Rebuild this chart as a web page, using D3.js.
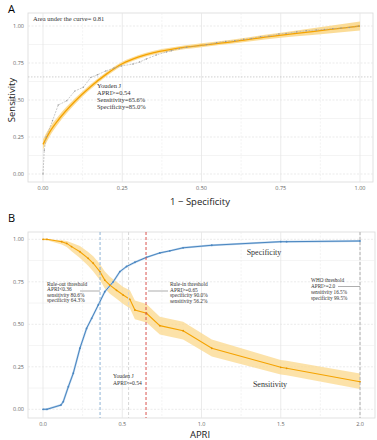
<!DOCTYPE html>
<html>
<head>
<meta charset="utf-8">
<script src="https://cdn.jsdelivr.net/npm/d3@7"></script>
<style>
  body { margin: 0; background: #fff; }
  svg { display: block; }
</style>
</head>
<body>
<svg id="chart" width="377" height="440"></svg>
<script>
// ---- Panel A data: empirical ROC points
var rocFpr  = [0, 0.004, 0.01, 0.03, 0.048, 0.075, 0.10, 0.127, 0.151, 0.172, 0.198, 0.224, 0.247, 0.284, 0.305, 0.326, 0.357, 0.389, 0.405, 0.43,
               0.453, 0.516, 0.547, 0.576, 0.605, 0.633, 0.657, 0.686, 0.713, 0.744, 0.767, 0.80, 0.83, 0.862, 0.888, 0.914, 0.94, 0.966, 0.996];
var rocTpr  = [0, 0.16, 0.25, 0.36, 0.466, 0.495, 0.56, 0.586, 0.653, 0.671, 0.696, 0.716, 0.73, 0.743, 0.757, 0.777, 0.804, 0.824, 0.833, 0.847,
               0.856, 0.874, 0.887, 0.896, 0.90, 0.91, 0.916, 0.928, 0.932, 0.946, 0.95, 0.96, 0.968, 0.973, 0.977, 0.982, 0.986, 0.99, 1.0];
// smoothed ROC with band
var smoothX  = [0, 0.02, 0.05, 0.1, 0.15, 0.2, 0.25, 0.3, 0.35, 0.4, 0.45, 0.5, 0.6, 0.7, 0.8, 0.9, 1.0];
var smoothY  = [0.20, 0.28, 0.37, 0.49, 0.59, 0.675, 0.745, 0.79, 0.82, 0.84, 0.857, 0.87, 0.895, 0.925, 0.95, 0.975, 1.0];
var smoothLo = [0.165, 0.25, 0.345, 0.47, 0.573, 0.66, 0.731, 0.777, 0.807, 0.827, 0.844, 0.857, 0.881, 0.909, 0.93, 0.95, 0.97];
var smoothHi = [0.235, 0.31, 0.395, 0.51, 0.607, 0.69, 0.759, 0.803, 0.833, 0.853, 0.87, 0.883, 0.909, 0.941, 0.97, 1.0, 1.03];
var youdenSens = 0.656;

// ---- Panel B data: sensitivity / specificity vs APRI
var apri      = [0, 0.025, 0.118, 0.15, 0.18, 0.233, 0.285, 0.317, 0.359, 0.39, 0.422, 0.464, 0.506, 0.548, 0.58, 0.653, 0.737, 0.884, 1.065, 1.50, 1.537, 2.0];
var sens      = [1.0, 1.0, 0.986, 0.976, 0.957, 0.927, 0.888, 0.859, 0.81, 0.76, 0.73, 0.70, 0.672, 0.647, 0.584, 0.565, 0.492, 0.462, 0.359, 0.247, 0.241, 0.162];
var sensLo    = [0.995, 0.995, 0.97, 0.955, 0.93, 0.89, 0.845, 0.81, 0.76, 0.71, 0.68, 0.65, 0.62, 0.595, 0.53, 0.51, 0.44, 0.41, 0.31, 0.205, 0.2, 0.12];
var sensHi    = [1.0, 1.0, 0.995, 0.99, 0.98, 0.96, 0.925, 0.9, 0.855, 0.81, 0.78, 0.75, 0.72, 0.7, 0.64, 0.62, 0.545, 0.515, 0.41, 0.29, 0.285, 0.21];
var specApri  = [0, 0.025, 0.113, 0.128, 0.16, 0.191, 0.233, 0.275, 0.307, 0.349, 0.39, 0.443, 0.485, 0.527, 0.58, 0.653, 0.737, 0.80, 0.884, 1.065, 1.50, 1.537, 2.0];
var spec      = [0, 0, 0.025, 0.045, 0.133, 0.212, 0.359, 0.476, 0.535, 0.614, 0.692, 0.75, 0.81, 0.84, 0.865, 0.894, 0.92, 0.932, 0.95, 0.965, 0.986, 0.986, 0.99];
var thresholds = [
  {x: 0.36, color: "#8fb3d6"},
  {x: 0.54, color: "#d6d6d6"},
  {x: 0.65, color: "#d9534f"},
  {x: 2.0,  color: "#b0b0b0"}
];

var svg = d3.select("#chart");
var orange = "#f5a300", band = "#fbd88c", blue = "#4a86c0";

function panel(r, x, y, xt, yt, xfmt) {
  svg.append("rect").attr("x", r.l).attr("y", r.t).attr("width", r.r - r.l).attr("height", r.b - r.t)
    .attr("fill", "#fff").attr("stroke", "#d9d9d9").attr("stroke-width", 0.8);
  var g = svg.append("g");
  // minor grid
  var xm = d3.range(xt.length - 1).map(function(i) { return (xt[i] + xt[i + 1]) / 2; });
  var ym = d3.range(yt.length - 1).map(function(i) { return (yt[i] + yt[i + 1]) / 2; });
  g.selectAll(".mx").data(xm).enter().append("line")
    .attr("x1", x).attr("x2", x).attr("y1", r.t).attr("y2", r.b)
    .attr("stroke", "#ececec").attr("stroke-width", 0.6).attr("stroke-dasharray", "2,1.5");
  g.selectAll(".my").data(ym).enter().append("line")
    .attr("y1", y).attr("y2", y).attr("x1", r.l).attr("x2", r.r)
    .attr("stroke", "#ececec").attr("stroke-width", 0.6);
  g.selectAll(".gx").data(xt).enter().append("line")
    .attr("x1", x).attr("x2", x).attr("y1", r.t).attr("y2", r.b)
    .attr("stroke", "#e6e6e6").attr("stroke-width", 0.8);
  g.selectAll(".gy").data(yt).enter().append("line")
    .attr("y1", y).attr("y2", y).attr("x1", r.l).attr("x2", r.r)
    .attr("stroke", "#e6e6e6").attr("stroke-width", 0.8).attr("stroke-dasharray", "2,1.5");
  // tick labels
  g.selectAll(".tx").data(xt).enter().append("text")
    .attr("x", x).attr("y", r.b + 8).attr("text-anchor", "middle")
    .attr("font-family", "Open Sans").attr("font-size", 5.5).attr("fill", "#666").text(xfmt);
  g.selectAll(".ty").data(yt).enter().append("text")
    .attr("x", r.l - 4).attr("y", function(d) { return y(d) + 2; }).attr("text-anchor", "end")
    .attr("font-family", "Open Sans").attr("font-size", 5.5).attr("fill", "#666").text(d3.format(".2f"));
}

function label(txt, px, py, lines, size, dy) {
  var t = svg.append("text").attr("x", px).attr("y", py)
    .attr("font-family", "Liberation Serif").attr("font-size", size).attr("fill", "#333");
  lines.forEach(function(s, i) {
    t.append("tspan").attr("x", px).attr("dy", i ? dy : 0).text(s);
  });
}

// ================= Panel A =================
var rA = {l: 28, r: 373, t: 13, b: 182};
var xA = d3.scaleLinear().domain([0, 1]).range([43, 360]);
var yA = d3.scaleLinear().domain([0, 1]).range([174, 26]);
panel(rA, xA, yA, [0, 0.25, 0.5, 0.75, 1], [0, 0.25, 0.5, 0.75, 1], d3.format(".2f"));

svg.append("line").attr("x1", rA.l).attr("x2", rA.r).attr("y1", yA(youdenSens)).attr("y2", yA(youdenSens))
  .attr("stroke", "#bbb").attr("stroke-width", 0.7).attr("stroke-dasharray", "1.5,1.5");

var smooth = smoothX.map(function(d, i) { return {x: d, y: smoothY[i], lo: smoothLo[i], hi: smoothHi[i]}; });
svg.append("path").datum(smooth).attr("fill", band).attr("opacity", 0.9)
  .attr("d", d3.area().curve(d3.curveMonotoneX).x(function(d) { return xA(d.x); })
    .y0(function(d) { return yA(d.lo); }).y1(function(d) { return yA(d.hi); }));
svg.append("path").datum(smooth).attr("fill", "none").attr("stroke", orange).attr("stroke-width", 1.3)
  .attr("d", d3.line().curve(d3.curveMonotoneX).x(function(d) { return xA(d.x); }).y(function(d) { return yA(d.y); }));

var roc = rocFpr.map(function(d, i) { return {x: d, y: rocTpr[i]}; });
svg.append("path").datum(roc).attr("fill", "none").attr("stroke", "#a8a8a8").attr("stroke-width", 0.6)
  .attr("stroke-dasharray", "2,1")
  .attr("d", d3.line().x(function(d) { return xA(d.x); }).y(function(d) { return yA(d.y); }));
svg.append("g").selectAll("circle").data(roc).enter().append("circle")
  .attr("cx", function(d) { return xA(d.x); }).attr("cy", function(d) { return yA(d.y); })
  .attr("r", 0.7).attr("fill", "#999");

label("", 33, 20.5, ["Area under the curve= 0.81"], 6.5, 0);
label("", 97, 88, ["Youden J", "APRI>=0.54", "Sensitivity=65.6%", "Specificity=85.0%"], 6.5, 7);

svg.append("text").attr("x", 8).attr("y", 13).attr("font-family", "Open Sans").attr("font-size", 11).text("A");
svg.append("text").attr("x", 200).attr("y", 205).attr("text-anchor", "middle")
  .attr("font-family", "Open Sans").attr("font-size", 9.5).attr("fill", "#222").text("1 \u2212 Specificity");
svg.append("text").attr("transform", "translate(15,100) rotate(-90)").attr("text-anchor", "middle")
  .attr("font-family", "Open Sans").attr("font-size", 9.5).attr("fill", "#222").text("Sensitivity");

// ================= Panel B =================
var rB = {l: 28, r: 375, t: 232, b: 418};
var xB = d3.scaleLinear().domain([0, 2]).range([43, 360]);
var yB = d3.scaleLinear().domain([0, 1]).range([409.3, 239.3]);
panel(rB, xB, yB, [0, 0.5, 1, 1.5, 2], [0, 0.25, 0.5, 0.75, 1], d3.format(".1f"));

var sensData = apri.map(function(d, i) { return {x: d, y: sens[i], lo: sensLo[i], hi: sensHi[i]}; });
svg.append("path").datum(sensData).attr("fill", band).attr("opacity", 0.75)
  .attr("d", d3.area().x(function(d) { return xB(d.x); })
    .y0(function(d) { return yB(d.lo); }).y1(function(d) { return yB(d.hi); }));

var specData = specApri.map(function(d, i) { return {x: d, y: spec[i]}; });
svg.append("path").datum(specData).attr("fill", "none").attr("stroke", "#b9d3ec").attr("stroke-width", 2)
  .attr("d", d3.line().x(function(d) { return xB(d.x); }).y(function(d) { return yB(d.y); }));
svg.append("path").datum(specData).attr("fill", "none").attr("stroke", blue).attr("stroke-width", 1)
  .attr("d", d3.line().x(function(d) { return xB(d.x); }).y(function(d) { return yB(d.y); }));
svg.append("g").selectAll("circle").data(specData).enter().append("circle")
  .attr("cx", function(d) { return xB(d.x); }).attr("cy", function(d) { return yB(d.y); })
  .attr("r", 0.9).attr("fill", blue);

svg.append("path").datum(sensData).attr("fill", "none").attr("stroke", orange).attr("stroke-width", 1.1)
  .attr("d", d3.line().x(function(d) { return xB(d.x); }).y(function(d) { return yB(d.y); }));
svg.append("g").selectAll("circle").data(sensData).enter().append("circle")
  .attr("cx", function(d) { return xB(d.x); }).attr("cy", function(d) { return yB(d.y); })
  .attr("r", 0.9).attr("fill", "#e89600");

svg.append("g").selectAll("line").data(thresholds).enter().append("line")
  .attr("x1", function(d) { return xB(d.x); }).attr("x2", function(d) { return xB(d.x); })
  .attr("y1", rB.t).attr("y2", rB.b)
  .attr("stroke", function(d) { return d.color; }).attr("stroke-width", 1)
  .attr("stroke-dasharray", "3,2");

// connectors
[[80, 100, 291], [148, 168, 291], [338, 360, 286.5]].forEach(function(c) {
  svg.append("line").attr("x1", c[0]).attr("x2", c[1]).attr("y1", c[2]).attr("y2", c[2])
    .attr("stroke", "#777").attr("stroke-width", 0.6);
});

label("", 47, 286, ["Rule-out threshold", "APRI<0.36", "sensitivity 80.6%", "specificity 64.3%"], 5.4, 5.3);
label("", 170, 286, ["Rule-in threshold", "APRI>=0.65", "specificity 90.0%", "sensitivity 56.2%"], 5.4, 5.6);
label("", 113, 378, ["Youden J", "APRI>=0.54"], 5.6, 6.5);
label("", 311, 282, ["WHO threshold", "APRI>=2.0", "sensitivity 16.5%", "specificity 99.5%"], 5.2, 5.9);

svg.append("text").attr("x", 264).attr("y", 254.5).attr("text-anchor", "middle")
  .attr("font-family", "Liberation Serif").attr("font-size", 8).attr("fill", "#333").text("Specificity");
svg.append("text").attr("x", 270).attr("y", 386.5).attr("text-anchor", "middle")
  .attr("font-family", "Liberation Serif").attr("font-size", 8).attr("fill", "#333").text("Sensitivity");

svg.append("text").attr("x", 8).attr("y", 222).attr("font-family", "Open Sans").attr("font-size", 11).text("B");
svg.append("text").attr("x", 200).attr("y", 438).attr("text-anchor", "middle")
  .attr("font-family", "Open Sans").attr("font-size", 9.5).attr("fill", "#222").text("APRI");
</script>
</body>
</html>
